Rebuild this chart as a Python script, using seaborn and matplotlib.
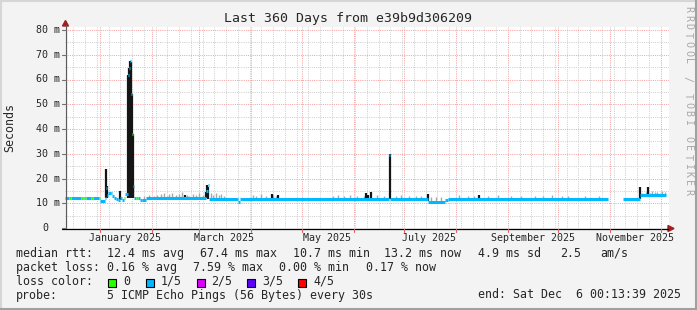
import numpy as np
import pandas as pd
import matplotlib
matplotlib.use("Agg")
import matplotlib.pyplot as plt
import seaborn as sns
from matplotlib.patches import Rectangle, Polygon

# ---------------- data ----------------
START = pd.Timestamp("2024-12-11 00:13:39")
END = pd.Timestamp("2025-12-06 00:13:39")
SPAN_DAYS = 360
title = "Last 360 Days from e39b9d306209"

# median rtt (ms) as step segments: segment i spans median_day[i] .. median_day[i+1]
median_day = [0, 2.5, 3.3, 9.8, 10.6, 11.5, 12.3, 15.6, 16.4, 20.0,
              20.6, 23.9, 24.3, 24.9, 25.8, 27.3, 28.3, 29.5, 30.5, 31.8,
              33.0, 33.8, 35.0, 35.8, 37.3, 37.9, 38.5, 39.6, 40.1, 40.5,
              41.0, 42.6, 43.4, 44.5, 46.0, 48.5, 84.3, 85.0, 85.7, 103.0,
              104.2, 193.4, 194.0, 216.3, 226.6, 228.5, 323.6, 332.7, 342.7, 358.4]
median_ms = [12.1, 12.1, 12.1, 12.1, 12.0, 12.1, 12.1, 12.1, 12.1, 12.1,
             11.0, 12.0, 16.0, 13.2, 14.0, 14.3, 13.0, 12.3, 11.6, 11.3,
             12.0, 11.3, 12.2, 13.8, 62.0, 64.5, 67.4, 54.0, 38.0, 17.0,
             12.2, 12.2, 12.0, 11.5, 11.2, 12.0, 15.0, 17.2, 11.7, 10.6,
             11.9, 29.3, 11.9, 10.7, 11.5, 11.9, np.nan, 11.9, 13.3, np.nan]
# loss class of each segment: 0 -> no loss, 1 -> 1/5
median_loss = [1, 0, 1, 0, 1, 0, 1, 0, 1, 0,
               1, 1, 1, 1, 1, 1, 1, 1, 1, 1,
               1, 1, 0, 1, 1, 1, 1, 1, 0, 1,
               1, 0, 1, 1, 1, 1, 1, 1, 1, 1,
               1, 1, 1, 1, 1, 1, 1, 1, 1, 1]

# grey smoke (ping spread above the median)
smoke_day = [47, 50, 53, 55, 57, 59, 60.5, 62, 64, 66,
             68, 70, 72.5, 74, 76, 78, 80, 82,
             87, 88.5, 90, 91.5, 93, 95,
             112, 114, 117, 120, 124, 126,
             160, 163, 166, 170, 174, 178,
             186, 190, 197, 200, 205, 209, 212,
             218, 221, 224,
             235, 240, 244, 252, 258, 266, 272, 280, 285, 290, 296, 300, 310, 318,
             344, 346, 348.5, 350, 351.5, 353, 354.5, 356, 357.5]
smoke_top = [12.8, 13.2, 13.0, 13.5, 13.8, 14.2, 13.0, 13.6, 14.0, 13.2,
             13.8, 14.4, 13.5, 13.1, 13.9, 13.3, 14.0, 13.5,
             14.3, 13.5, 14.0, 13.2, 13.8, 13.0,
             13.4, 13.0, 13.6, 13.1, 13.3, 12.9,
             13.0, 13.3, 12.8, 13.2, 13.0, 12.9,
             13.3, 13.0, 12.9, 13.2, 12.8, 13.0, 12.9,
             12.4, 12.6, 12.5,
             13.2, 12.9, 13.0, 12.8, 13.3, 13.0, 12.9, 13.1, 12.8, 13.2, 12.9, 13.0, 12.8, 12.9,
             14.3, 14.6, 14.2, 14.8, 14.4, 14.7, 14.3, 14.9, 14.5]

# dark spikes (max rtt)
spike_day = [24.6, 25.1, 33.0, 37.5, 38.1, 38.7, 39.3, 39.9, 40.3, 40.8,
             71.6, 84.0, 84.7, 85.3, 123.3, 127.0, 179.5, 180.6, 182.5, 193.7,
             216.1, 246.9, 342.8, 347.7]
spike_low = [12.0, 12.0, 11.3, 12.0, 12.0, 12.0, 12.0, 12.0, 12.0, 12.0,
             12.0, 12.0, 12.0, 11.7, 11.9, 11.9, 11.9, 11.9, 11.9, 11.9,
             10.8, 11.9, 11.9, 13.3]
spike_top = [23.8, 17.0, 15.0, 62.0, 64.5, 67.4, 67.0, 54.0, 38.0, 17.0,
             13.4, 14.5, 17.4, 16.5, 13.6, 13.2, 14.1, 13.4, 14.7, 29.9,
             13.6, 13.5, 16.7, 16.4]

y_major = [0, 10, 20, 30, 40, 50, 60, 70, 80]
y_minor = [5, 15, 25, 35, 45, 55, 65, 75]
y_labels = ["0", "10 m", "20 m", "30 m", "40 m", "50 m", "60 m", "70 m", "80 m"]
month_labels = ["January 2025", "March 2025", "May 2025", "July 2025",
                "September 2025", "November 2025"]
month_label_dates = ["2025-01-16", "2025-03-16", "2025-05-16", "2025-07-16",
                     "2025-09-16", "2025-11-16"]

legend_rows = [
    [("median rtt:", 16), ("12.4 ms avg", 107), ("67.4 ms max", 200),
     ("10.7 ms min", 293), ("13.2 ms now", 384), ("4.9 ms sd", 478),
     ("2.5", 560), ("am/s", 600)],
    [("packet loss:", 16), ("0.16 % avg", 107), ("7.59 % max", 193),
     ("0.00 % min", 279), ("0.17 % now", 366)],
    [("loss color:", 16)],
    [("probe:", 16), ("5 ICMP Echo Pings (56 Bytes) every 30s", 107),
     ("end: Sat Dec  6 00:13:39 2025", 478)],
]
loss_names = ["0", "1/5", "2/5", "3/5", "4/5"]
loss_colors = ["#26FF00", "#00B8FF", "#DD00FF", "#5E00FF", "#FF0000"]
loss_swatch_x = [108, 146, 197, 247, 298]
loss_text_x = [123, 160.5, 211.5, 262.5, 313]

# ---------------- figure ----------------
W, H = 697, 310
sns.set_style("white")
MONO = ["DejaVu Sans Mono"]
plt.rcParams["font.family"] = MONO

fig = plt.figure(figsize=(W / 100, H / 100), dpi=100, facecolor="#F3F3F3")
PL, PR, PT, PB = 65, 669, 27, 228
YPX = 2.475  # px per ms
ax = fig.add_axes([PL / W, 1 - PB / H, (PR - PL) / W, (PB - PT) / H])
ax.set_facecolor("white")
ax.set_xlim(0, SPAN_DAYS)
ax.set_ylim(0, (PB - PT) / YPX)
for s in ax.spines.values():
    s.set_visible(False)
ax.set_xticks([])
ax.set_yticks([])

GRID = "#CFCFCF"
MGRID = "#F4A3A3"
DOT = (0, (1, 1.2))


def day_of(ts):
    return (pd.Timestamp(ts) - START) / pd.Timedelta(days=1)


months = [day_of(d) for d in pd.date_range("2025-01-01", "2025-12-01", freq="MS")]
weeks = [day_of(d) for d in pd.date_range("2024-12-16", END, freq="7D")]

for y in y_minor:
    ax.axhline(y, color=GRID, lw=0.72, ls=DOT, zorder=1)
for x in weeks:
    if min(abs(x - m) for m in months) > 0.8:
        ax.axvline(x, color=GRID, lw=0.72, ls=DOT, zorder=1)
for y in y_major[1:]:
    ax.axhline(y, color=MGRID, lw=0.72, ls=DOT, zorder=2)
for x in months:
    ax.axvline(x, color=MGRID, lw=0.72, ls=DOT, zorder=2)

# smoke
md = np.array(median_day)
mv = np.array(median_ms)
idx = np.clip(np.searchsorted(md, smoke_day, side="right") - 1, 0, len(md) - 1)
smoke_bot = mv[idx]
ax.vlines(smoke_day, smoke_bot, smoke_top, color="#A8A8A8", lw=1.0, zorder=3)

# spikes
ax.vlines(spike_day, spike_low, spike_top, color="#151515", lw=1.6, zorder=4)

# median line segments
rows = []
for i in range(len(median_day) - 1):
    v = median_ms[i]
    if np.isnan(v):
        continue
    lname = loss_names[median_loss[i]]
    rows.append(dict(day=median_day[i], ms=v, seg=i, loss=lname))
    rows.append(dict(day=median_day[i + 1], ms=v, seg=i, loss=lname))
df = pd.DataFrame(rows)
sns.lineplot(data=df, x="day", y="ms", hue="loss", units="seg", estimator=None,
             palette={"0": loss_colors[0], "1/5": loss_colors[1]},
             lw=2.2, legend=False, sort=False, ax=ax, zorder=5,
             solid_capstyle="butt")
ax.set_xlabel("")
ax.set_ylabel("")

# ---------------- overlay in pixel coordinates ----------------
ov = fig.add_axes([0, 0, 1, 1])
ov.set_xlim(0, W)
ov.set_ylim(H, 0)
ov.axis("off")
ov.patch.set_alpha(0)

# frame
ov.plot([0, W], [0.75, 0.75], color="#D6D6D6", lw=1.5)
ov.plot([0.75, 0.75], [0, H], color="#D6D6D6", lw=1.5)
ov.plot([0, W], [H - 1, H - 1], color="#A0A0A0", lw=1.5)
ov.plot([W - 1, W - 1], [0, H], color="#A0A0A0", lw=1.5)

# axes lines and arrows
ov.plot([65.5, 65.5], [228.5, 25], color="#5A5A5A", lw=0.9)
ov.plot([62, 668], [228.5, 228.5], color="black", lw=0.9)
ov.add_patch(Polygon([(668, 225.5), (674, 228.5), (668, 231.5)], closed=True, color="#A02020"))
ov.add_patch(Polygon([(62.5, 26), (65.5, 20.5), (68.5, 26)], closed=True, color="#A02020"))

# y tick marks and labels
for v, lab in zip(y_major, y_labels):
    yp = PB - v * YPX
    ov.plot([62, 65.5], [yp, yp], color="#707070", lw=0.8)
    if lab == "0":
        ov.text(42.5, yp, lab, ha="left", va="center", fontsize=7.2, family=MONO)
    else:
        ov.text(60, yp, lab, ha="right", va="center", fontsize=7.2, family=MONO)

# x tick marks and labels
for m in months:
    xp = PL + m * (PR - PL) / SPAN_DAYS
    ov.plot([xp, xp], [228.5, 231.5], color="#E06060", lw=0.8)
for lab, d in zip(month_labels, month_label_dates):
    xp = PL + day_of(d) * (PR - PL) / SPAN_DAYS
    ov.text(xp, 238, lab, ha="center", va="center", fontsize=7.2, family=MONO)

# title, y label, watermark
ov.text(348.5, 18.5, title, ha="center", va="center", fontsize=9.55, family=MONO)
ov.text(10, 127, "Seconds", ha="center", va="center", rotation=90, fontsize=8.4, family=MONO)
wm = "RRDTOOL / TOBI OETIKER"
for i, ch in enumerate(wm):
    ov.text(688, 9 + i * 8.7, ch, ha="center", va="center", rotation=-90,
            fontsize=7.2, color="#A8A8A8", family=MONO)

# legend text
baselines = [257, 271, 285, 298.5]
for row, yb in zip(legend_rows, baselines):
    for txt, xp in row:
        ov.text(xp, yb, txt, ha="left", va="baseline", fontsize=8.4, family=MONO)
for c, xs, xt, name in zip(loss_colors, loss_swatch_x, loss_text_x, loss_names):
    ov.add_patch(Rectangle((xs, 278.5), 8, 8, facecolor=c, edgecolor="black", lw=0.8))
    ov.text(xt, baselines[2], name, ha="left", va="baseline", fontsize=8.4, family=MONO)

fig.savefig("out.png", dpi=100, facecolor=fig.get_facecolor())
